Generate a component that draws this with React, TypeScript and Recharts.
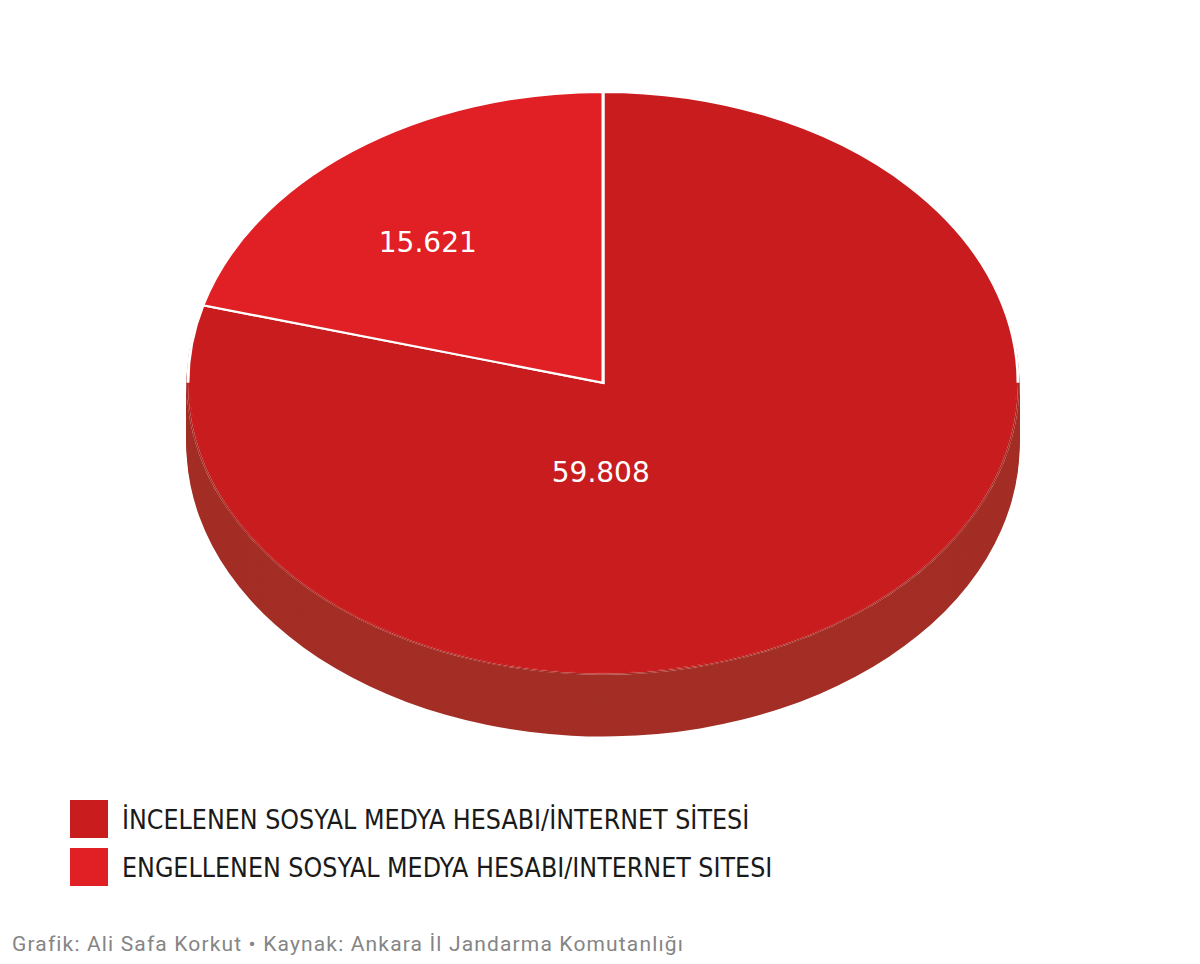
import { Cell, Pie, PieChart } from 'recharts';

const categories = [
  'İNCELENEN SOSYAL MEDYA HESABI/İNTERNET SİTESİ',
  'ENGELLENEN SOSYAL MEDYA HESABI/INTERNET SITESI',
];
const values = [59808, 15621];
const valueLabels = ['59.808', '15.621'];
const colors = ['#c81c1e', '#e02024'];
const sideColor = '#a32e25';

const data = categories.map((name, i) => ({ name, value: values[i], label: valueLabels[i] }));
const rim = [{ name: 'rim', value: 1 }];

// vertical squash that turns the round pie into the tilted ellipse
const K = 0.701;
const CX = 603;
const CY = 546;
const R = 415;
const EDGE = R + 1.6;
const DEPTH = 88;
const sideLayers = Array.from({ length: Math.ceil(DEPTH / 4) }, (_, i) => CY + DEPTH - i * 4);

const RAD = Math.PI / 180;

const renderLabel = (props: any) => {
  const { cx, cy, midAngle, outerRadius, index, payload } = props;
  // big slice label sits just below centre, small one at its mid angle
  const ang = index === 0 ? -91 : midAngle + 4;
  const r = index === 0 ? outerRadius * 0.31 : outerRadius * 0.64;
  const x = cx + r * Math.cos(ang * RAD);
  const y = cy - r * Math.sin(ang * RAD);
  return (
    <text
      transform={`translate(${x},${y}) scale(1,${1 / K})`}
      textAnchor="middle"
      dominantBaseline="central"
      fill="#fff"
      fontSize={28}
      fontFamily="DejaVu Sans"
    >
      {payload.label ?? valueLabels[index]}
    </text>
  );
};

export default function App() {
  return (
    <div style={{ position: 'absolute', left: 0, top: 0, width: 1200, height: 964, background: '#fff', overflow: 'hidden' }}>
      <div style={{ position: 'absolute', left: 0, top: 0, transform: `scaleY(${K})`, transformOrigin: '0 0' }}>
        <PieChart width={1200} height={1080} margin={{ top: 0, right: 0, bottom: 0, left: 0 }}>
          {sideLayers.map((y) => (
            <Pie
              key={y}
              data={data}
              dataKey="value"
              cx={CX}
              cy={y}
              outerRadius={EDGE}
              startAngle={90}
              endAngle={-270}
              stroke="none"
              isAnimationActive={false}
            >
              {data.map((d) => (
                <Cell key={d.name} fill={sideColor} />
              ))}
            </Pie>
          ))}
          <Pie
            data={data}
            dataKey="value"
            cx={CX}
            cy={CY}
            outerRadius={R}
            startAngle={90}
            endAngle={-270}
            stroke="#fff"
            strokeWidth={3}
            label={renderLabel}
            labelLine={false}
            isAnimationActive={false}
          >
            {data.map((d, i) => (
              <Cell key={d.name} fill={colors[i]} />
            ))}
          </Pie>
          {/* hide the white outline where the top face meets the side wall */}
          <Pie
            data={rim}
            dataKey="value"
            cx={CX}
            cy={CY}
            innerRadius={R}
            outerRadius={EDGE}
            startAngle={180}
            endAngle={360}
            stroke="none"
            fill={sideColor}
            isAnimationActive={false}
          />
          <Pie
            data={rim}
            dataKey="value"
            cx={CX}
            cy={CY}
            innerRadius={R - 2}
            outerRadius={R}
            startAngle={180}
            endAngle={360}
            stroke="none"
            fill={colors[0]}
            isAnimationActive={false}
          />
        </PieChart>
      </div>
      <div style={{ position: 'absolute', left: 70, top: 800 }}>
        {categories.map((c, i) => (
          <div key={c} style={{ display: 'flex', alignItems: 'center', height: 38, marginBottom: 10 }}>
            <div style={{ width: 38, height: 38, background: colors[i] }} />
            <span
              style={{
                marginLeft: 14,
                fontFamily: 'DejaVu Sans Condensed',
                fontStretch: 'semi-condensed',
                fontSize: 26.5,
                color: '#1a1a1a',
                whiteSpace: 'nowrap',
              }}
            >
              {c}
            </span>
          </div>
        ))}
      </div>
      <div
        style={{
          position: 'absolute',
          left: 12,
          top: 932,
          fontFamily: 'Roboto',
          fontSize: 21,
          letterSpacing: 1.15,
          color: '#858585',
          whiteSpace: 'nowrap',
        }}
      >
        Grafik: Ali Safa Korkut • Kaynak: Ankara İl Jandarma Komutanlığı
      </div>
    </div>
  );
}
